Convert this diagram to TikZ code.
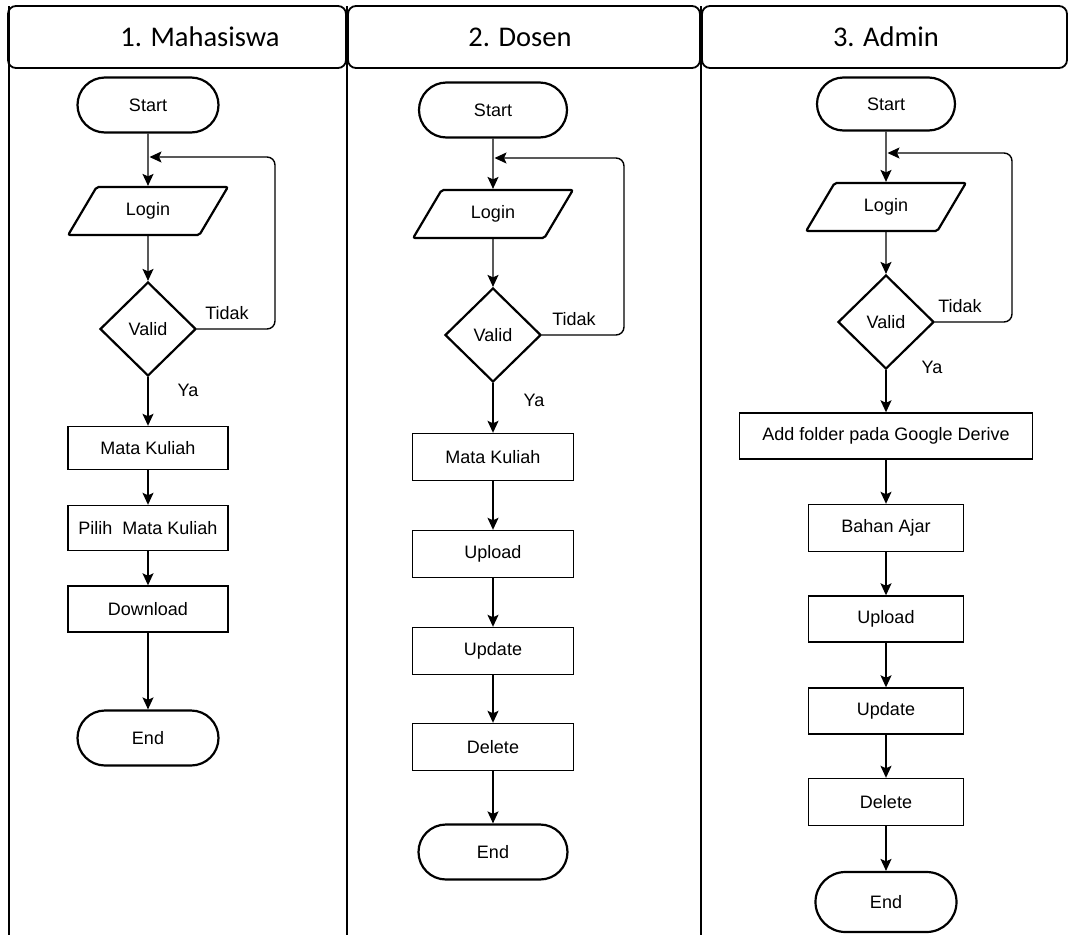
\documentclass[tikz,border=0pt]{standalone}
\usepackage{fontspec}
\setmainfont{Liberation Sans}
\newfontfamily\headfont{Carlito}
\usetikzlibrary{shapes.geometric,shapes.misc,arrows.meta}

\begin{document}
\begin{tikzpicture}[x=1pt,y=-1pt,
  every node/.style={font=\fontsize{18}{20}\selectfont, inner sep=0pt},
  terminal/.style={rounded rectangle, draw, line width=2.2pt, minimum width=141pt, minimum height=55pt},
  io/.style={trapezium, trapezium left angle=54, trapezium right angle=126, trapezium stretches=true,
             draw, line width=2.2pt, minimum width=160pt, minimum height=48pt, rounded corners=2pt},
  decision/.style={diamond, draw, line width=2.2pt, minimum width=96pt, minimum height=94pt},
  process/.style={rectangle, draw, line width=1.4pt, minimum height=46pt},
  flow/.style={line width=1.4pt, -{Stealth[length=12pt,width=11pt,inset=2.5pt]}},
  loopback/.style={flow, rounded corners=8pt},
  lane/.style={line width=2.4pt},
  header/.style={draw, line width=1.8pt, rounded corners=8pt},
  headtext/.style={font=\headfont\fontsize{28.5}{30}\selectfont},
  note/.style={}
]
\useasboundingbox (0,0) rectangle (1069,935);

% swimlane frame
\draw[lane] (9,6) -- (9,935);
\draw[lane] (347,6) -- (347,935);
\draw[lane] (701,6) -- (701,935);
\draw[header] (8,6) rectangle (346,68);
\draw[header] (348,6) rectangle (700,68);
\draw[header] (702,6) rectangle (1067,68);
\node[headtext] (h1) at (200,37) {1. Mahasiswa};
\node[headtext] (h2) at (520,37) {2. Dosen};
\node[headtext] (h3) at (886,37) {3. Admin};

% lane 1: Mahasiswa
\node[terminal] (s1) at (148,105) {Start};
\node[io] (l1) at (148,211) {Login};
\node[decision] (v1) at (148,329) {Valid};
\node[process, minimum width=160pt, minimum height=43pt] (m1) at (148,448) {Mata Kuliah};
\node[process, minimum width=160pt, minimum height=45pt] (p1) at (148,528) {Pilih\ \ Mata Kuliah};
\node[process, minimum width=160pt, minimum height=46pt] (d1) at (148,609) {Download};
\node[terminal] (e1) at (148,738) {End};
\coordinate (r1) at (275,157);
\coordinate (j1) at (149.5,157);
\draw[flow] (s1) -- (l1);
\draw[flow] (l1) -- (v1);
\draw[flow] (v1) -- (m1);
\draw[flow] (m1) -- (p1);
\draw[flow] (p1) -- (d1);
\draw[flow] (d1) -- (e1);
\draw[loopback] (v1.east) -| (r1) -- (j1);
\node[note] (t1) at (227,313) {Tidak};
\node[note] (y1) at (188,390) {Ya};

% lane 2: Dosen
\node[terminal, minimum width=148pt] (s2) at (493,110) {Start};
\node[io] (l2) at (493,214) {Login};
\node[decision] (v2) at (493,335) {Valid};
\node[process, minimum width=161pt, minimum height=47pt] (m2) at (493,457) {Mata Kuliah};
\node[process, minimum width=161pt, minimum height=47pt] (u2) at (493,554) {Upload};
\node[process, minimum width=161pt, minimum height=47pt] (up2) at (493,651) {Update};
\node[process, minimum width=161pt, minimum height=47pt] (de2) at (493,747) {Delete};
\node[terminal, minimum width=149pt] (e2) at (493,852) {End};
\coordinate (r2) at (624,158);
\coordinate (j2) at (494.5,158);
\draw[flow] (s2) -- (l2);
\draw[flow] (l2) -- (v2);
\draw[flow] (v2) -- (m2);
\draw[flow] (m2) -- (u2);
\draw[flow] (u2) -- (up2);
\draw[flow] (up2) -- (de2);
\draw[flow] (de2) -- (e2);
\draw[loopback] (v2.east) -| (r2) -- (j2);
\node[note] (t2) at (574,319) {Tidak};
\node[note] (y2) at (534,400) {Ya};

% lane 3: Admin
\node[terminal, minimum width=138pt, minimum height=53pt] (s3) at (886,104) {Start};
\node[io] (l3) at (886,207) {Login};
\node[decision] (v3) at (886,322) {Valid};
\node[process, minimum width=293pt, minimum height=46pt] (a3) at (886,436) {Add folder pada Google Derive};
\node[process, minimum width=155pt, minimum height=47pt] (b3) at (886,528) {Bahan Ajar};
\node[process, minimum width=155pt, minimum height=46pt] (u3) at (886,619) {Upload};
\node[process, minimum width=155pt, minimum height=46pt] (up3) at (886,711) {Update};
\node[process, minimum width=155pt, minimum height=47pt] (de3) at (886,802) {Delete};
\node[terminal, minimum width=141pt, minimum height=60pt] (e3) at (886,902) {End};
\coordinate (r3) at (1012,153);
\coordinate (j3) at (887.5,153);
\draw[flow] (s3) -- (l3);
\draw[flow] (l3) -- (v3);
\draw[flow] (v3) -- (a3);
\draw[flow] (a3) -- (b3);
\draw[flow] (b3) -- (u3);
\draw[flow] (u3) -- (up3);
\draw[flow] (up3) -- (de3);
\draw[flow] (de3) -- (e3);
\draw[loopback] (v3.east) -| (r3) -- (j3);
\node[note] (t3) at (960,306) {Tidak};
\node[note] (y3) at (932,367) {Ya};
\end{tikzpicture}
\end{document}
